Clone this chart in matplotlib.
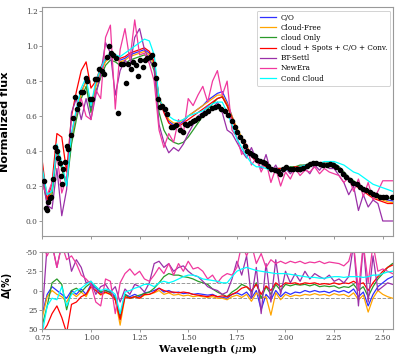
import matplotlib
matplotlib.use("Agg")
import matplotlib.pyplot as plt
import numpy as np

plt.rcParams['axes.unicode_minus'] = False
plt.rcParams['mathtext.fontset'] = 'dejavuserif'

# observed spectrum (black dots)
obs_wave = [0.760, 0.767, 0.773, 0.780, 0.787, 0.795, 0.803, 0.815, 0.824, 0.832,
            0.841, 0.845, 0.850, 0.858, 0.867, 0.875, 0.884, 0.896, 0.906, 0.918,
            0.930, 0.940, 0.949, 0.961, 0.973, 0.981, 0.995, 1.007, 1.021, 1.033,
            1.043, 1.055, 1.067, 1.081, 1.093, 1.103, 1.115, 1.127, 1.140, 1.153,
            1.166, 1.180, 1.192, 1.204, 1.217, 1.230, 1.242, 1.252, 1.266, 1.277,
            1.289, 1.303, 1.313, 1.324, 1.334, 1.344, 1.355, 1.367, 1.380, 1.392,
            1.409, 1.423, 1.437, 1.457, 1.471, 1.483, 1.495, 1.509, 1.522, 1.534,
            1.551, 1.569, 1.586, 1.603, 1.620, 1.637, 1.654, 1.671, 1.688, 1.705,
            1.723, 1.740, 1.752, 1.765, 1.779, 1.791, 1.803, 1.817, 1.831, 1.843,
            1.854, 1.868, 1.882, 1.894, 1.911, 1.928, 1.945, 1.962, 1.974, 1.988,
            2.005, 2.022, 2.039, 2.057, 2.074, 2.091, 2.108, 2.125, 2.142, 2.159,
            2.176, 2.193, 2.211, 2.228, 2.245, 2.262, 2.279, 2.296, 2.313, 2.330,
            2.347, 2.365, 2.382, 2.399, 2.416, 2.433, 2.450, 2.467, 2.484, 2.501,
            2.519, 2.545]
obs_flux = [0.229, 0.072, 0.065, 0.108, 0.13, 0.14, 0.24, 0.425, 0.40, 0.36,
            0.33, 0.26, 0.21, 0.30, 0.34, 0.43, 0.41, 0.49, 0.59, 0.71,
            0.64, 0.67, 0.74, 0.74, 0.82, 0.80, 0.70, 0.70, 0.81, 0.81,
            0.87, 0.86, 0.84, 0.94, 1.00, 0.96, 0.95, 0.93, 0.62, 0.90,
            0.90, 0.79, 0.90, 0.87, 0.91, 0.89, 0.83, 0.92, 0.88, 0.92,
            0.93, 0.94, 0.95, 0.90, 0.82, 0.70, 0.65, 0.66, 0.64, 0.61,
            0.535, 0.535, 0.55, 0.52, 0.51, 0.555, 0.55, 0.56, 0.57, 0.58,
            0.59, 0.605, 0.62, 0.63, 0.645, 0.65, 0.66, 0.64, 0.63, 0.605,
            0.57, 0.535, 0.51, 0.478, 0.455, 0.43, 0.40, 0.39, 0.38, 0.37,
            0.35, 0.345, 0.34, 0.33, 0.315, 0.30, 0.29, 0.285, 0.27, 0.30,
            0.31, 0.30, 0.295, 0.30, 0.295, 0.305, 0.316, 0.325, 0.33, 0.33,
            0.325, 0.322, 0.32, 0.325, 0.32, 0.31, 0.29, 0.27, 0.25, 0.235,
            0.22, 0.21, 0.195, 0.185, 0.177, 0.167, 0.157, 0.148, 0.14, 0.14,
            0.137, 0.137]

# model wavelength grid (0.75 - 2.55 um)
model_wave = np.linspace(0.75, 2.55, 73)

co_flux = [0.26, 0.12, 0.18, 0.42, 0.30, 0.22, 0.48, 0.62, 0.74, 0.80,
           0.64, 0.78, 0.86, 0.92, 0.95, 0.94, 0.92, 0.93, 0.95, 0.96,
           0.97, 0.98, 0.96, 0.90, 0.70, 0.63, 0.57, 0.55, 0.55, 0.57,
           0.60, 0.62, 0.64, 0.66, 0.69, 0.71, 0.73, 0.74, 0.68, 0.60,
           0.52, 0.47, 0.42, 0.37, 0.34, 0.34, 0.31, 0.30, 0.30, 0.30,
           0.30, 0.30, 0.31, 0.31, 0.32, 0.325, 0.33, 0.33, 0.33, 0.33,
           0.33, 0.31, 0.28, 0.25, 0.22, 0.21, 0.19, 0.17, 0.15, 0.14,
           0.13, 0.12, 0.115]
cloudfree_flux = [0.25, 0.11, 0.17, 0.41, 0.31, 0.21, 0.47, 0.62, 0.73, 0.80,
                  0.66, 0.77, 0.85, 0.91, 0.94, 0.93, 0.91, 0.92, 0.94, 0.95,
                  0.96, 0.97, 0.95, 0.89, 0.71, 0.64, 0.58, 0.56, 0.56, 0.58,
                  0.60, 0.62, 0.64, 0.66, 0.68, 0.70, 0.72, 0.72, 0.67, 0.60,
                  0.53, 0.48, 0.43, 0.38, 0.35, 0.34, 0.31, 0.30, 0.30, 0.30,
                  0.30, 0.30, 0.31, 0.31, 0.32, 0.32, 0.33, 0.33, 0.33, 0.33,
                  0.32, 0.30, 0.28, 0.25, 0.22, 0.20, 0.18, 0.16, 0.14, 0.13,
                  0.12, 0.11, 0.105]
cloudonly_flux = [0.24, 0.10, 0.15, 0.40, 0.30, 0.20, 0.44, 0.58, 0.70, 0.77,
                  0.62, 0.74, 0.82, 0.89, 0.92, 0.91, 0.89, 0.90, 0.92, 0.93,
                  0.94, 0.95, 0.93, 0.86, 0.62, 0.52, 0.47, 0.45, 0.44, 0.45,
                  0.48, 0.52, 0.56, 0.60, 0.64, 0.67, 0.70, 0.71, 0.66, 0.59,
                  0.52, 0.47, 0.42, 0.37, 0.35, 0.34, 0.31, 0.30, 0.30, 0.30,
                  0.30, 0.31, 0.31, 0.32, 0.32, 0.33, 0.33, 0.33, 0.33, 0.33,
                  0.33, 0.31, 0.28, 0.25, 0.23, 0.21, 0.19, 0.17, 0.16, 0.15,
                  0.14, 0.13, 0.13]
full_flux = [0.34, 0.12, 0.22, 0.50, 0.48, 0.28, 0.60, 0.74, 0.86, 0.91,
             0.76, 0.80, 0.88, 0.93, 0.96, 0.95, 0.93, 0.94, 0.96, 0.97,
             0.98, 0.99, 0.97, 0.91, 0.70, 0.62, 0.56, 0.54, 0.54, 0.56,
             0.58, 0.60, 0.62, 0.64, 0.66, 0.68, 0.70, 0.71, 0.66, 0.59,
             0.51, 0.46, 0.41, 0.37, 0.34, 0.33, 0.31, 0.30, 0.30, 0.30,
             0.30, 0.30, 0.31, 0.31, 0.32, 0.32, 0.33, 0.33, 0.33, 0.32,
             0.32, 0.30, 0.27, 0.24, 0.21, 0.19, 0.17, 0.15, 0.13, 0.12,
             0.11, 0.10, 0.10]
btsettl_flux = [0.25, 0.09, 0.07, 0.30, 0.03, 0.18, 0.62, 0.70, 0.58, 0.70,
                0.58, 0.72, 0.84, 1.02, 0.96, 0.72, 0.86, 0.92, 0.88, 1.05,
                1.10, 0.98, 0.92, 0.88, 0.55, 0.45, 0.39, 0.42, 0.40, 0.44,
                0.50, 0.55, 0.60, 0.62, 0.66, 0.64, 0.68, 0.62, 0.52, 0.50,
                0.45, 0.40, 0.36, 0.42, 0.35, 0.30, 0.38, 0.28, 0.32, 0.26,
                0.30, 0.27, 0.30, 0.28, 0.30, 0.27, 0.32, 0.29, 0.33, 0.30,
                0.30, 0.26, 0.22, 0.15, 0.20, 0.06, 0.15, 0.08, 0.12, 0.10,
                0.00, 0.00, 0.00]
newera_flux = [0.20, 0.15, 0.22, 0.38, 0.16, 0.25, 0.50, 0.62, 0.70, 0.60,
               0.58, 0.75, 0.70, 1.05, 1.12, 0.64, 0.98, 1.10, 0.92, 1.15,
               0.95, 0.96, 0.90, 0.80, 0.52, 0.42, 0.50, 0.45, 0.58, 0.50,
               0.70, 0.66, 0.72, 0.77, 0.68, 0.80, 0.86, 0.72, 0.80, 0.52,
               0.48, 0.38, 0.44, 0.32, 0.36, 0.28, 0.34, 0.22, 0.30, 0.20,
               0.28, 0.24, 0.30, 0.26, 0.29, 0.28, 0.31, 0.27, 0.30, 0.28,
               0.27, 0.26, 0.22, 0.25, 0.17, 0.24, 0.14, 0.22, 0.12, 0.17,
               0.23, 0.23, 0.23]
condcloud_flux = [0.30, 0.15, 0.17, 0.44, 0.33, 0.20, 0.50, 0.64, 0.76, 0.82,
                  0.66, 0.80, 0.87, 0.93, 0.96, 0.95, 0.94, 0.96, 0.98, 1.00,
                  1.02, 1.04, 1.03, 0.95, 0.70, 0.64, 0.60, 0.58, 0.57, 0.58,
                  0.60, 0.61, 0.62, 0.63, 0.65, 0.67, 0.68, 0.68, 0.62, 0.55,
                  0.47, 0.42, 0.37, 0.33, 0.31, 0.31, 0.30, 0.29, 0.29, 0.29,
                  0.29, 0.30, 0.30, 0.31, 0.32, 0.32, 0.33, 0.33, 0.34, 0.34,
                  0.34, 0.33, 0.32, 0.30, 0.28, 0.27, 0.25, 0.23, 0.21, 0.20,
                  0.19, 0.18, 0.17]

# residuals (%)
co_res = [30, 5, -5, 0, 5, 10, 0, 5, -2, 5, -8, -3, 3, 0, 2, 8, 35, 5, 8, 5,
          8, 3, 2, 0, -3, 2, 0, 3, 2, 4, 3, 5, 4, 5, 6, 5, 8, 9, 10, 5,
          3, 6, 2, 10, 0, 25, 5, 12, 0, 8, 2, 5, 2, 3, 0, 2, 0, 2, 1, 3,
          0, 2, 0, 3, -2, 8, 2, 20, 5, -5, -10, -15, -18]
cloudfree_res = [35, 8, 0, 5, 8, 15, 3, 8, 2, 8, -5, 0, 6, 3, 5, 12, 45, 8, 10, 8,
                 10, 6, 5, 3, 0, 5, 3, 6, 5, 7, 6, 8, 7, 8, 9, 8, 10, 10, 12, 8,
                 6, 9, 5, 14, 3, 10, 8, 32, 3, 12, 5, 8, 6, 7, 5, 6, 4, 6, 5, 7,
                 4, 6, 5, 8, 3, 12, 6, 28, 10, 0, 5, 8, 10]
cloudonly_res = [45, 20, -10, -15, -8, 25, 0, -3, 2, -5, -10, -5, 2, 0, 3, 10, 35, 5, 10, 8,
                 6, 4, 2, -3, -10, -18, -22, -20, -20, -18, -17, -15, -12, -10, -8, -2, 2, 5, 8, 2,
                 -2, -8, -5, 2, -10, 10, -5, 5, -8, 0, -8, -6, -8, -7, -8, -6, -8, -5, -6, -5,
                 -6, -3, -5, -4, -8, 0, -5, 8, -5, -15, -22, -30, -35]
full_res = [55, 45, 30, 20, 35, 55, 18, 15, 8, 5, -5, 0, 5, 2, 5, 12, 38, 8, 10, 8,
            10, 5, 5, 2, -3, 0, 2, 2, 3, 2, 3, 5, 6, 7, 8, 6, 8, 7, 8, 5,
            2, -3, -5, 0, -8, 5, -6, 0, -10, -5, -10, -9, -10, -8, -10, -9, -10, -8, -9, -8,
            -10, -8, -10, -9, -12, -8, -10, 0, -10, -18, -25, -30, -33]
btsettl_res = [30, -60, -60, -30, -60, -60, -25, -40, -30, -10, -12, 5, -5, -8, 2, -5, 15, -2, 5, -8,
               -5, 2, -10, -35, -38, -30, -35, -25, -30, -32, -25, -20, -18, -12, -5, -2, 0, 5, 2, -15,
               -38, -20, -45, 10, -30, 30, -35, 15, -40, 5, -25, -10, -22, -12, -25, -15, -22, -18, -15, -20,
               -12, -15, -10, -18, -60, 20, -60, 15, -45, 0, -5, -10, -8]
newera_res = [-60, -45, -60, -30, -60, -40, -45, -35, -20, -15, -8, 15, 20, -15, -12, 30, -10, -22, -28, -20,
              -25, -15, -12, -20, -30, -22, -35, -20, -35, -25, -38, -28, -30, -25, -15, -20, -10, -18, -22, -20,
              -30, -60, -45, -60, -35, -48, -30, -40, -35, -38, -35, -38, -36, -38, -35, -37, -36, -38, -35, -37,
              -36, -35, -32, -38, -60, 0, -60, -10, -60, -25, -28, -25, -22]
condcloud_res = [55, 20, 10, 12, -5, 20, 5, 0, -3, -8, -12, -5, 0, -2, 0, 5, 30, 2, 0, -3,
                 -5, -8, -8, -5, -10, -12, -10, -12, -15, -18, -20, -20, -18, -15, -14, -13, -12, -10, -10, -18,
                 -25, -28, -30, -28, -26, -25, -24, -23, -22, -22, -22, -21, -20, -19, -18, -17, -17, -16, -16, -17,
                 -18, -18, -17, -18, -18, -18, -17, -18, -20, -20, -22, -24, -25]

labels = ['C/O', 'Cloud-Free', 'cloud Only', 'cloud + Spots + C/O + Conv.',
          'BT-Settl', 'NewEra', 'Cond Cloud']
colors = ['#2f2fff', 'orange', '#2a9a2a', 'red', '#9a30a8', '#f0389e', 'cyan']
fluxes = [co_flux, cloudfree_flux, cloudonly_flux, full_flux,
          btsettl_flux, newera_flux, condcloud_flux]
residuals = [co_res, cloudfree_res, cloudonly_res, full_res,
             btsettl_res, newera_res, condcloud_res]

fig = plt.figure(figsize=(3.97, 3.56), dpi=100)
ax1 = fig.add_axes([0.1066, 0.337, 0.884, 0.642])
ax2 = fig.add_axes([0.1066, 0.0758, 0.884, 0.2163])

for flux, lab, c in zip(fluxes, labels, colors):
    ax1.plot(model_wave, flux, color=c, lw=0.9, label=lab)
ax1.plot(obs_wave, obs_flux, 'o', color='black', markersize=3.0, zorder=5)

for res, c in zip(residuals, colors):
    ax2.plot(model_wave, res, color=c, lw=0.9)
ax2.axhline(10, color='#999999', ls='--', lw=0.7, zorder=0)
ax2.axhline(-10, color='#999999', ls='--', lw=0.7, zorder=0)

ax1.set_xlim(0.75, 2.554)
ax1.set_ylim(-0.086, 1.221)
ax1.set_yticks([0.0, 0.2, 0.4, 0.6, 0.8, 1.0, 1.2])
ax1.set_xticks([0.75, 1.0, 1.25, 1.5, 1.75, 2.0, 2.25, 2.5])
ax1.tick_params(labelbottom=False)

ax2.set_xlim(0.75, 2.554)
ax2.set_ylim(50, -50)
ax2.set_yticks([-50, -25, 0, 25, 50])
ax2.set_xticks([0.75, 1.0, 1.25, 1.5, 1.75, 2.0, 2.25, 2.5])

for ax in (ax1, ax2):
    for s in ax.spines.values():
        s.set_color('#999999')
        s.set_linewidth(0.8)
    ax.tick_params(length=2, width=0.6, color='#888888', labelsize=5.3,
                   labelcolor='#444444', pad=1.5)
    for t in ax.get_xticklabels() + ax.get_yticklabels():
        t.set_family('DejaVu Serif')

ax1.set_ylabel('Normalized flux', fontsize=8.1, fontweight='bold', family='DejaVu Sans')
ax1.yaxis.set_label_coords(-0.092, 0.5)
ax2.set_ylabel('Δ(%)', fontsize=7, fontweight='bold', family='DejaVu Sans')
ax2.yaxis.set_label_coords(-0.086, 0.57)
ax2.set_xlabel(r'Wavelength ($\mu$m)', fontsize=7.4, fontweight='bold', family='DejaVu Serif')
ax2.xaxis.set_label_coords(0.472, -0.165)

leg = ax1.legend(loc='upper right', prop={'family': 'DejaVu Serif', 'size': 5.2},
                 handlelength=2.3, handletextpad=0.6, labelspacing=0.3,
                 borderaxespad=0.45, borderpad=0.4, framealpha=1, fancybox=True)
leg.get_frame().set_edgecolor('#cccccc')
leg.get_frame().set_linewidth(0.6)

plt.savefig('out.png', dpi=100)
